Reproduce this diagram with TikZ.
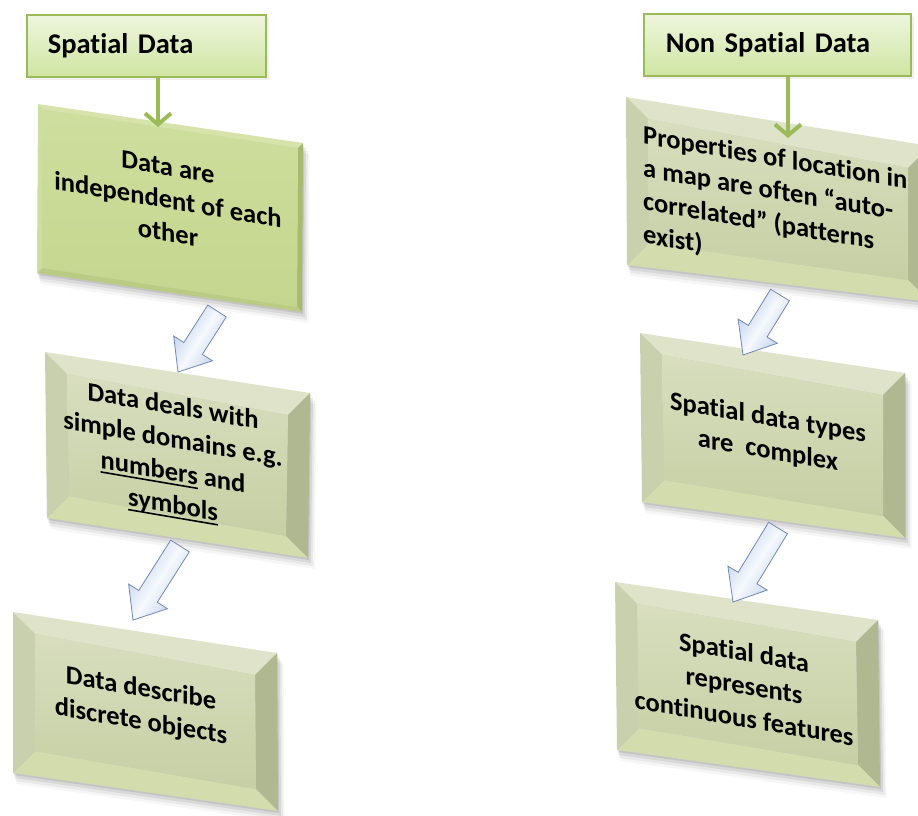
\documentclass[tikz,border=0pt]{standalone}
\usepackage{fontspec}
\setmainfont{Carlito}[Ligatures=NoCommon]
\usetikzlibrary{calc,arrows.meta}

% thick underline for single words
\newcommand\ulword[1]{\leavevmode\setbox0\hbox{#1}\rlap{\vrule width\wd0 height -2.8pt depth 4.4pt}\box0\relax}

% header boxes
\definecolor{hdrborder}{RGB}{155,187,89}
\definecolor{hdrtop}{RGB}{238,246,222}
\definecolor{hdrbot}{RGB}{207,229,162}
% lime bevelled box
\definecolor{limetop}{RGB}{214,228,172}
\definecolor{limeright}{RGB}{168,186,112}
\definecolor{limebot}{RGB}{186,204,132}
\definecolor{limeleft}{RGB}{206,222,160}
\definecolor{limehi}{RGB}{206,222,158}
\definecolor{limelo}{RGB}{196,214,142}
% olive bevelled boxes
\definecolor{olivetop}{RGB}{222,227,202}
\definecolor{oliveright}{RGB}{176,184,146}
\definecolor{olivebot}{RGB}{210,220,172}
\definecolor{oliveleft}{RGB}{201,208,173}
\definecolor{olivehi}{RGB}{216,222,190}
\definecolor{olivelo}{RGB}{198,207,164}
% block arrows
\definecolor{arrowedge}{RGB}{112,136,180}
\definecolor{arrowlight}{RGB}{246,249,253}
\definecolor{arrowmid}{RGB}{188,205,234}

\tikzset{
  header/.style={draw=hdrborder, line width=1.6pt, top color=hdrtop, bottom color=hdrbot,
    anchor=north west, align=left, inner ysep=0pt, font=\bfseries\fontsize{28.5}{32}\selectfont},
  btxt/.style={align=center, inner sep=0pt, yslant=-0.17,
    font=\bfseries\fontsize{26.5}{33}\selectfont},
  garrow/.style={draw=hdrborder, line width=4pt,
    -{Straight Barb[length=11pt,width=26pt]}},
  barrow/.style={draw=arrowedge, line width=0.8pt, top color=arrowmid,
    bottom color=arrowmid, middle color=arrowlight, shading angle=57}
}

% bevelled quadrilateral: name, corners TL TR BR BL, bevel width, colour set
\newcommand\bevelbox[7]{%
  \coordinate (#1-a) at (#2);
  \coordinate (#1-b) at (#3);
  \coordinate (#1-c) at (#4);
  \coordinate (#1-d) at (#5);
  \coordinate (#1-ia) at ($(#1-a)+(#6,#6)$);
  \coordinate (#1-ib) at ($(#1-b)+(-#6,#6)$);
  \coordinate (#1-ic) at ($(#1-c)+(-#6,-#6)$);
  \coordinate (#1-id) at ($(#1-d)+(#6,-#6)$);
  \foreach \s/\o in {11/0.035,8/0.05,5/0.07,2/0.09}{
    \fill[black,opacity=\o] ($(#1-a)+(0.3*\s,\s)$) -- ($(#1-b)+(0.6*\s,\s)$)
      -- ($(#1-c)+(0.6*\s,\s)$) -- ($(#1-d)+(0.3*\s,\s)$) -- cycle;
  }
  \fill[#7top] (#1-a) -- (#1-b) -- (#1-ib) -- (#1-ia) -- cycle;
  \fill[#7right] (#1-b) -- (#1-c) -- (#1-ic) -- (#1-ib) -- cycle;
  \fill[#7bot] (#1-c) -- (#1-d) -- (#1-id) -- (#1-ic) -- cycle;
  \fill[#7left] (#1-d) -- (#1-a) -- (#1-ia) -- (#1-id) -- cycle;
  \shade[top color=#7hi, bottom color=#7lo] (#1-ia) -- (#1-ib) -- (#1-ic) -- (#1-id) -- cycle;
}

% block arrow from a tail coordinate to a tip coordinate
\newcommand\blockarrow[2]{%
  \coordinate (#1-neck) at ($(#2)!28pt!(#1)$);
  \path[barrow] ($(#1)!11pt!90:(#2)$) -- ($(#1-neck)!11pt!-90:(#1)$)
    -- ($(#1-neck)!23pt!-90:(#1)$) -- (#2) -- ($(#1-neck)!23pt!90:(#1)$)
    -- ($(#1-neck)!11pt!90:(#1)$) -- ($(#1)!11pt!-90:(#2)$) -- cycle;
}

\begin{document}
\begin{tikzpicture}[x=1pt,y=-1pt]
\useasboundingbox (0,0) rectangle (918,816);
\fill[white] (0,0) rectangle (918,816);
\clip (0,0) rectangle (918,816);

% left column
\bevelbox{b1}{38,104}{303,143}{302,312}{37,273}{5}{lime}
\bevelbox{b2}{45,352}{310,393}{308,558}{47,518}{22}{olive}
\bevelbox{b3}{13,612}{277,653}{278,811}{13,773}{22}{olive}

% right column
\bevelbox{r1}{626,97}{930,146}{930,302}{627,265}{22}{olive}
\bevelbox{r2}{640,333}{905,373}{905,538}{642,502}{22}{olive}
\bevelbox{r3}{615,582}{878,620}{880,787}{617,750}{22}{olive}

% headers
\fill[black,opacity=0.06] (29,18) rectangle (269,80);
\fill[black,opacity=0.06] (646,17) rectangle (914,79);
\node[header, minimum width=239pt, minimum height=62pt, text width=197pt, inner xsep=21pt]
  (h1) at (26,14) {Spatial Data};
\node[header, minimum width=267pt, minimum height=62pt, text width=223pt, inner xsep=22pt]
  (h2) at (643,13) {Non Spatial Data};

% box texts
\node[btxt] (t1) at (168,200) {Data are\\independent of each\\other};
\node[btxt] (t2) at (173,457) {Data deals with\\simple domains e.g.\\\ulword{numbers} and\\\ulword{symbols}};
\node[btxt] (t3) at (141,706) {Data describe\\discrete objects};
\node[btxt, align=left, anchor=west] (t4) at (643,186)
  {Properties of location in\\a map are often “auto-\\correlated” (patterns\\exist)};
\node[btxt] (t5) at (768,435) {Spatial data types\\are\ \ complex};
\node[btxt] (t6) at (744,685) {Spatial data\\represents\\continuous features};

% green connectors from the headers
\coordinate (g1) at (158,127);
\coordinate (g2) at (788,138);
\draw[garrow] (h1.south -| g1) -- (g1);
\draw[garrow] (h2.south -| g2) -- (g2);

% block arrows between boxes
\coordinate (a1) at (217,311); \coordinate (a1p) at (178,372);
\coordinate (a2) at (180,546); \coordinate (a2p) at (133,620);
\coordinate (a3) at (780,295); \coordinate (a3p) at (743,355);
\coordinate (a4) at (778,528); \coordinate (a4p) at (733,602);
\blockarrow{a1}{a1p}
\blockarrow{a2}{a2p}
\blockarrow{a3}{a3p}
\blockarrow{a4}{a4p}
\end{tikzpicture}
\end{document}
